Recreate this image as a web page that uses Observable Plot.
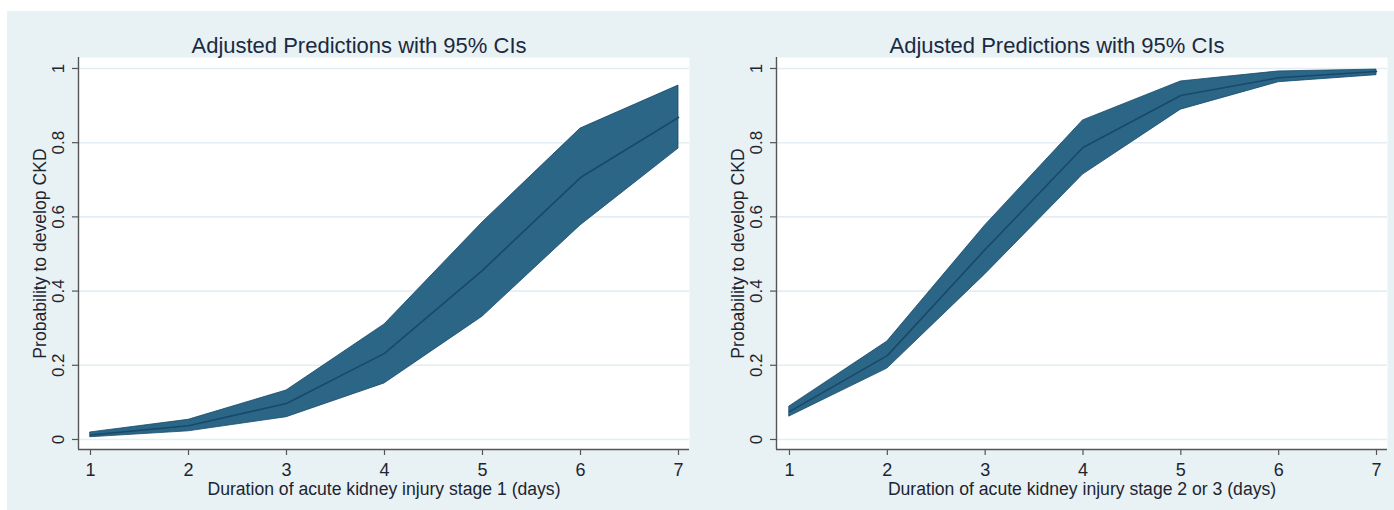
<!DOCTYPE html>
<html>
<head>
<meta charset="utf-8">
<script src="https://cdn.jsdelivr.net/npm/d3@7"></script>
<script src="https://cdn.jsdelivr.net/npm/@observablehq/plot@0.6"></script>
<style>
  html, body { margin: 0; padding: 0; background: #ffffff; }
  #wrap { position: relative; width: 1394px; height: 510px; overflow: hidden; background: #ffffff; }
  #bg { position: absolute; left: 7px; top: 11px; width: 1387px; height: 499px; background: #e8f1f4; }
  .panel { position: absolute; top: 0; }
  #p1 { left: 0; }
  #p2 { left: 697px; }
</style>
</head>
<body>
<div id="wrap">
  <div id="bg"></div>
  <div class="panel" id="p1"></div>
  <div class="panel" id="p2"></div>
</div>
<script>
// ---- data ----
const days = [1, 2, 3, 4, 5, 6, 7];
const yTicks = [0, 0.2, 0.4, 0.6, 0.8, 1];
const yTickLabels = ["0", "0.2", "0.4", "0.6", "0.8", "1"];
const chartTitle = "Adjusted Predictions with 95% CIs";
const yTitle = "Probability to develop CKD";

const stage1Title = "Duration of acute kidney injury stage 1 (days)";
const stage1Mean  = [0.012, 0.037, 0.097, 0.232, 0.456, 0.706, 0.868];
const stage1Lower = [0.006, 0.022, 0.060, 0.151, 0.331, 0.577, 0.784];
const stage1Upper = [0.019, 0.053, 0.132, 0.310, 0.585, 0.838, 0.954];

const stage23Title = "Duration of acute kidney injury stage 2 or 3 (days)";
const stage23Mean  = [0.075, 0.226, 0.512, 0.787, 0.927, 0.975, 0.992];
const stage23Lower = [0.062, 0.191, 0.445, 0.714, 0.889, 0.963, 0.982];
const stage23Upper = [0.089, 0.264, 0.577, 0.860, 0.965, 0.992, 0.997];

const FONT = "'Liberation Sans', Arial, Helvetica, sans-serif";
const FILL = "#2c6687";
const LINE = "#17496b";
const TEXT = "#1d2530";

function panel(mean, lower, upper, xTitle, ml, mr) {
  const data = days.map((d, i) => ({day: d, mean: mean[i], lo: lower[i], hi: upper[i]}));
  const yd = [-0.027, 1.0296];
  const xd = [1 - (ml - 66) / 98, 7 + (697 - mr - 678 - (ml - 78)) / 98];
  return Plot.plot({
    width: 697,
    height: 510,
    marginLeft: ml,
    marginRight: mr,
    marginTop: 57,
    marginBottom: 61,
    style: {background: "transparent", fontFamily: FONT, color: TEXT, overflow: "visible"},
    x: {domain: xd, nice: false},
    y: {domain: yd, nice: false},
    marks: [
      Plot.frame({fill: "white", stroke: null}),
      Plot.ruleY(yTicks, {stroke: "#e4eef2", strokeWidth: 1.6}),
      Plot.areaY(data, {x: "day", y1: "lo", y2: "hi", fill: FILL, stroke: LINE, strokeWidth: 0.8}),
      Plot.lineY(data, {x: "day", y: "mean", stroke: LINE, strokeWidth: 1.6}),
      Plot.ruleX([xd[0]], {stroke: "#555", strokeWidth: 1.4}),
      Plot.ruleY([yd[0]], {stroke: "#555", strokeWidth: 1.4}),
      Plot.axisY({ticks: yTicks, tickSize: 6, tickFormat: () => "", stroke: "#555", strokeWidth: 1.2, label: null}),
      Plot.text(yTicks, {x: xd[0], y: d => d, text: (d, i) => yTickLabels[i], rotate: -90, dx: -20, fontSize: 17, fill: TEXT}),
      Plot.axisX({ticks: days, tickFormat: d => String(d), tickSize: 6, tickPadding: 8, fontSize: 18, stroke: "#555", strokeWidth: 1.2, label: null, fill: TEXT}),
      Plot.text([xTitle], {frameAnchor: "bottom", textAnchor: "middle", dy: 45, fontSize: 17.6, fill: TEXT}),
      Plot.text([yTitle], {frameAnchor: "left", textAnchor: "middle", dx: -38, rotate: -90, fontSize: 17.6, fill: TEXT}),
      Plot.text([chartTitle], {frameAnchor: "top", textAnchor: "middle", dx: -25, dy: -20, fontSize: 22, fill: "#1b2a40"})
    ]
  });
}

document.getElementById("p1").appendChild(panel(stage1Mean, stage1Lower, stage1Upper, stage1Title, 78, 8));
document.getElementById("p2").appendChild(panel(stage23Mean, stage23Lower, stage23Upper, stage23Title, 79, 7));
</script>
</body>
</html>
